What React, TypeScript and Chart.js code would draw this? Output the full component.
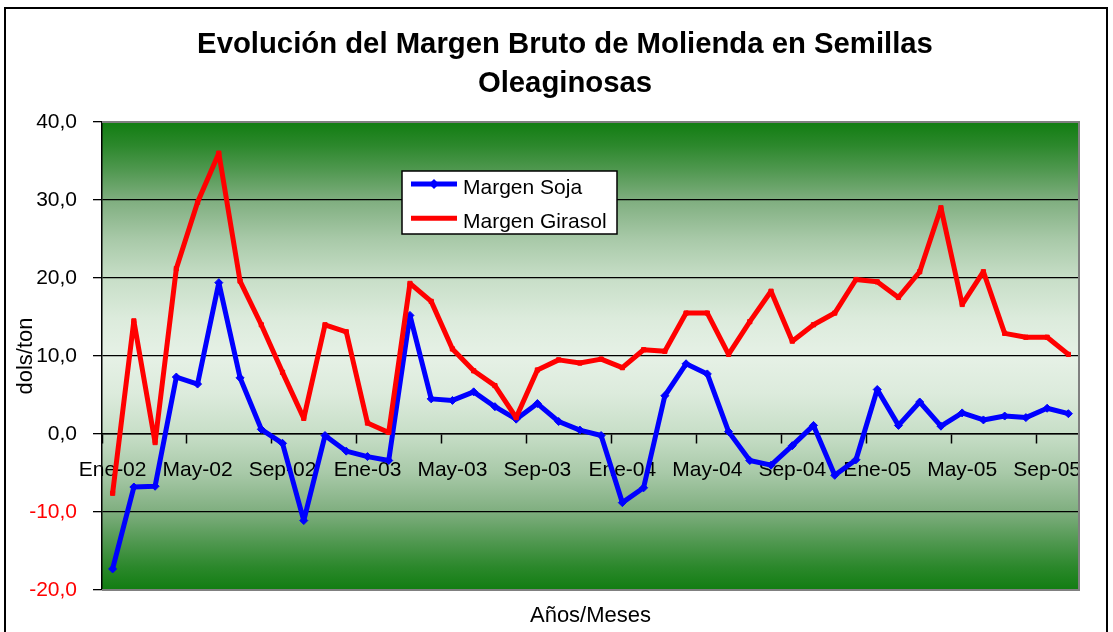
import React, { useEffect, useRef } from 'react';
import { Chart, registerables } from 'chart.js';

Chart.register(...registerables);

const FONT = '"Liberation Sans", Arial, Helvetica, sans-serif';

const categories = [
  'Ene-02', 'Feb-02', 'Mar-02', 'Abr-02', 'May-02', 'Jun-02', 'Jul-02', 'Ago-02', 'Sep-02', 'Oct-02', 'Nov-02', 'Dic-02',
  'Ene-03', 'Feb-03', 'Mar-03', 'Abr-03', 'May-03', 'Jun-03', 'Jul-03', 'Ago-03', 'Sep-03', 'Oct-03', 'Nov-03', 'Dic-03',
  'Ene-04', 'Feb-04', 'Mar-04', 'Abr-04', 'May-04', 'Jun-04', 'Jul-04', 'Ago-04', 'Sep-04', 'Oct-04', 'Nov-04', 'Dic-04',
  'Ene-05', 'Feb-05', 'Mar-05', 'Abr-05', 'May-05', 'Jun-05', 'Jul-05', 'Ago-05', 'Sep-05', 'Oct-05',
];

const margenSoja = [
  -17.3, -6.8, -6.7, 7.3, 6.4, 19.4, 7.2, 0.6, -1.2, -11.1, -0.2, -2.2,
  -2.9, -3.4, 15.2, 4.5, 4.3, 5.4, 3.5, 1.9, 3.9, 1.6, 0.5, -0.2,
  -8.8, -6.9, 4.9, 9.0, 7.7, 0.3, -3.4, -4.0, -1.5, 1.1, -5.3, -3.3,
  5.7, 1.1, 4.1, 1.0, 2.7, 1.8, 2.3, 2.1, 3.3, 2.6,
];

const margenGirasol = [
  -7.6, 14.5, -1.1, 21.2, 29.7, 36.0, 19.6, 14.0, 7.9, 2.0, 14.0, 13.1,
  1.4, 0.2, 19.3, 17.0, 10.9, 8.1, 6.2, 2.1, 8.2, 9.5, 9.1, 9.6,
  8.5, 10.8, 10.6, 15.5, 15.5, 10.2, 14.4, 18.3, 11.9, 14.0, 15.5, 19.8,
  19.5, 17.5, 20.8, 29.0, 16.6, 20.8, 12.9, 12.4, 12.4, 10.2,
];

const yTicks = [-20, -10, 0, 10, 20, 30, 40];

const seriesNames = ['Margen Soja', 'Margen Girasol'];
const titleLines = ['Evolución del Margen Bruto de Molienda en Semillas', 'Oleaginosas'];
const xTitle = 'Años/Meses';
const yTitle = 'dols/ton';

export default function App() {
  const ref = useRef<HTMLCanvasElement>(null);

  useEffect(() => {
    document.body.style.margin = '0';
    document.body.style.overflow = 'hidden';
    const canvas = ref.current;
    if (!canvas) return;

    const frame = {
      id: 'frame',
      beforeDraw(chart: any) {
        const { ctx, chartArea: a } = chart;
        ctx.save();
        ctx.fillStyle = '#ffffff';
        ctx.fillRect(0, 0, chart.width, chart.height);
        ctx.strokeStyle = '#000000';
        ctx.lineWidth = 2;
        ctx.strokeRect(5, 8, 1102, 640);
        const g = ctx.createLinearGradient(0, a.top, 0, a.bottom);
        const stops: [number, string][] = [
          [0, '#117d11'], [0.05, '#2c882c'], [0.1, '#4e974e'], [0.167, '#7fae7f'],
          [0.25, '#a8c9a8'], [0.333, '#c7dec7'], [0.42, '#dcebdc'], [0.5, '#e6f1e6'],
        ];
        stops.forEach(([p, c]) => g.addColorStop(p, c));
        stops.slice(0, -1).reverse().forEach(([p, c]) => g.addColorStop(1 - p, c));
        ctx.fillStyle = g;
        ctx.fillRect(a.left, a.top, a.right - a.left, a.bottom - a.top);
        ctx.restore();
      },
      beforeDatasetsDraw(chart: any) {
        const { ctx, chartArea: a } = chart;
        ctx.save();
        ctx.strokeStyle = '#808080';
        ctx.lineWidth = 2;
        ctx.beginPath();
        ctx.moveTo(a.left, a.top);
        ctx.lineTo(a.right, a.top);
        ctx.lineTo(a.right, a.bottom);
        ctx.lineTo(a.left, a.bottom);
        ctx.stroke();
        ctx.restore();
      },
      afterLayout(chart: any) {
        const t = chart.titleBlock;
        if (t) {
          t.left = 17;
          t.right = chart.width;
        }
      },
      afterDraw(chart: any) {
        const ctx = chart.ctx;
        ctx.save();
        ctx.fillStyle = '#ffffff';
        ctx.fillRect(402, 171, 215, 63);
        ctx.strokeStyle = '#000000';
        ctx.lineWidth = 1.5;
        ctx.strokeRect(402, 171, 215, 63);
        chart.data.datasets.forEach((ds: any, i: number) => {
          const y = 184 + i * 34.3;
          ctx.strokeStyle = ds.borderColor;
          ctx.lineWidth = 5;
          ctx.beginPath();
          ctx.moveTo(411, y);
          ctx.lineTo(457, y);
          ctx.stroke();
          if (ds.pointStyle === 'rectRot') {
            ctx.fillStyle = ds.borderColor;
            ctx.beginPath();
            ctx.moveTo(434, y - 5);
            ctx.lineTo(439, y);
            ctx.lineTo(434, y + 5);
            ctx.lineTo(429, y);
            ctx.closePath();
            ctx.fill();
          }
          ctx.fillStyle = '#000000';
          ctx.font = `21px ${FONT}`;
          ctx.textBaseline = 'middle';
          ctx.textAlign = 'left';
          ctx.fillText(ds.label, 463, y + 4);
        });
        ctx.restore();
      },
    };

    const chart = new Chart(canvas, {
      type: 'line',
      data: {
        labels: categories,
        datasets: [
          {
            label: seriesNames[0],
            data: margenSoja,
            borderColor: '#0000ff',
            backgroundColor: '#0000ff',
            borderWidth: 5,
            borderJoinStyle: 'bevel',
            pointStyle: 'rectRot',
            pointRadius: 4,
            pointBorderWidth: 1,
            pointBackgroundColor: '#0000ff',
            pointBorderColor: '#0000ff',
            tension: 0,
            fill: false,
            order: 1,
          },
          {
            label: seriesNames[1],
            data: margenGirasol,
            borderColor: '#ff0000',
            backgroundColor: '#ff0000',
            borderWidth: 5,
            borderJoinStyle: 'bevel',
            pointStyle: 'rect',
            pointRadius: 3,
            pointBorderWidth: 1,
            pointBackgroundColor: '#ff0000',
            pointBorderColor: '#ff0000',
            tension: 0,
            fill: false,
            order: 0,
          },
        ],
      },
      options: {
        responsive: false,
        animation: false,
        events: [],
        font: { family: FONT },
        layout: { padding: { left: 0, right: 34, top: 0, bottom: 0 } },
        plugins: {
          legend: { display: false },
          tooltip: { enabled: false },
          title: {
            display: true,
            text: titleLines,
            color: '#000000',
            font: { family: FONT, size: 29.3, weight: 'bold', lineHeight: 1.33 },
            padding: { top: 25.5, bottom: 18.5 },
          },
        },
        scales: {
          x: {
            type: 'category',
            axis: 'x',
            position: { y: 0 },
            offset: true,
            grid: {
              offset: true,
              drawOnChartArea: false,
              drawTicks: true,
              tickLength: 9,
              tickWidth: 1.5,
              tickColor: (c: any) => (c.index !== undefined && c.index % 4 === 0 ? '#000000' : 'rgba(0,0,0,0)'),
            },
            border: { display: true, color: '#000000', width: 1.5 },
            ticks: {
              autoSkip: false,
              maxRotation: 0,
              minRotation: 0,
              padding: 15,
              color: '#000000',
              font: { family: FONT, size: 21 },
              callback: (_v: any, i: number) => (i % 4 === 0 ? categories[i] : ''),
            },
          },
          x2: {
            type: 'category',
            axis: 'x',
            position: 'bottom',
            ticks: { display: false },
            grid: { display: false, drawTicks: false },
            border: { display: false },
            title: {
              display: true,
              text: xTitle,
              color: '#000000',
              font: { family: FONT, size: 22, lineHeight: 1.2 },
              padding: { top: 12.6, bottom: 3 },
            },
          },
          y: {
            type: 'linear',
            position: 'left',
            min: yTicks[0],
            max: yTicks[yTicks.length - 1],
            afterFit: (s: any) => {
              s.width = 102;
            },
            ticks: {
              stepSize: yTicks[1] - yTicks[0],
              padding: 16,
              color: (c: any) => (c.tick && c.tick.value < 0 ? '#ff0000' : '#000000'),
              font: { family: FONT, size: 21 },
              callback: (v: any) => Number(v).toFixed(1).replace('.', ','),
            },
            grid: {
              color: '#000000',
              lineWidth: 1.3,
              tickLength: 9,
              tickColor: '#000000',
              tickWidth: 1.3,
            },
            border: { display: true, color: '#000000', width: 1.5 },
            title: {
              display: true,
              text: yTitle,
              color: '#000000',
              font: { family: FONT, size: 22, lineHeight: 1.2 },
              padding: { top: 12.8, bottom: 0 },
            },
          },
        },
      },
      plugins: [frame],
    } as any);

    return () => chart.destroy();
  }, []);

  return (
    <div style={{ width: 1113, height: 632 }}>
      <canvas ref={ref} width={1113} height={632} style={{ display: 'block' }} />
    </div>
  );
}
